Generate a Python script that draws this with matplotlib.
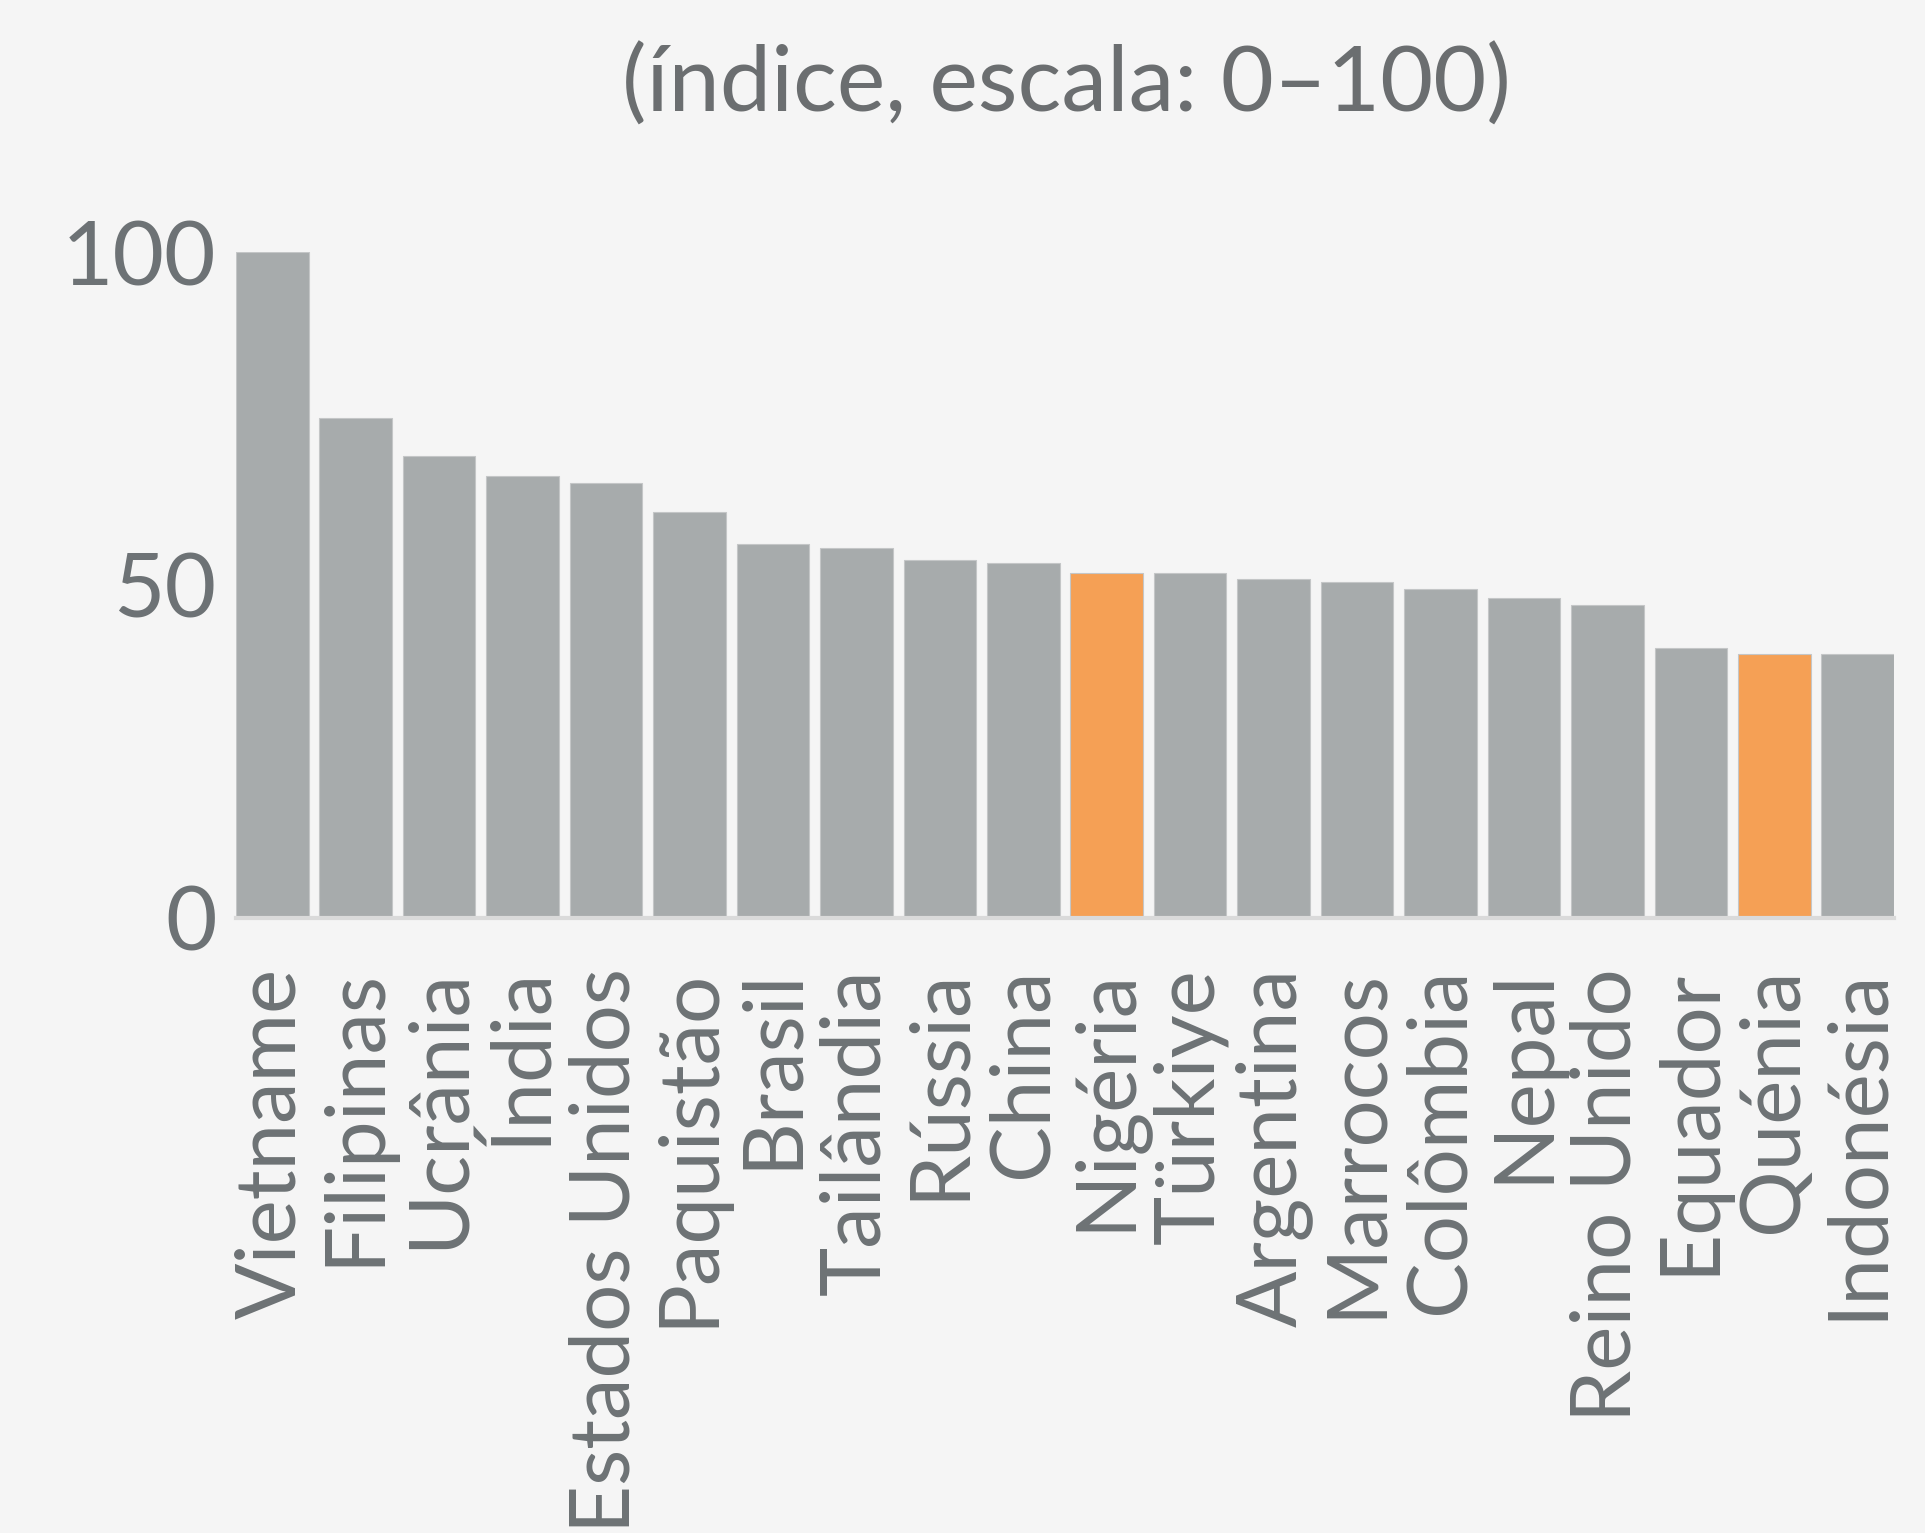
import matplotlib
matplotlib.use("Agg")
import matplotlib.pyplot as plt

countries = ["Vietname", "Filipinas", "Ucrânia", "Índia", "Estados Unidos", "Paquistão",
             "Brasil", "Tailândia", "Rússia", "China", "Nigéria", "Türkiye", "Argentina",
             "Marrocos", "Colômbia", "Nepal", "Reino Unido", "Equador", "Quénia", "Indonésia"]
values = [100, 75.1, 69.3, 66.4, 65.3, 61.0, 56.2, 55.6, 53.8, 53.3, 51.8, 51.8, 50.9,
          50.4, 49.4, 48.0, 47.0, 40.6, 39.7, 39.7]
highlight = ["Nigéria", "Quénia"]
yticks = [0, 50, 100]
title = "(índice, escala: 0–100)"

BG = "#f5f5f5"
GRAY = "#a7abac"
ORANGE = "#f5a055"
TEXT = "#6d7275"

plt.rcParams["font.family"] = ["Lato", "DejaVu Sans"]

fig = plt.figure(figsize=(19.25, 15.33), dpi=100, facecolor=BG)
ax = fig.add_axes([0.1226, 0.4012, 0.8613, 0.4344])
ax.set_facecolor("none")

w = 0.87
colors = [ORANGE if c in highlight else GRAY for c in countries]
x = list(range(len(countries)))
ax.bar(x, values, width=w, color=colors, edgecolor="#c4c6c7", linewidth=0.8, zorder=2)

ax.set_xlim(-w / 2, len(countries) - 1 + w / 2)
ax.set_ylim(0, 100)
ax.set_yticks(yticks)
ax.set_yticklabels([str(t) for t in yticks], fontsize=64, color=TEXT)
ax.set_xticks(x)
ax.set_xticklabels(countries, rotation=90, fontsize=60, color=TEXT, ha="center", va="top")
ax.tick_params(axis="both", length=0)
ax.tick_params(axis="x", pad=36)
ax.tick_params(axis="y", pad=14)

for s in ["top", "right", "left"]:
    ax.spines[s].set_visible(False)
ax.spines["bottom"].set_color("#dadada")
ax.spines["bottom"].set_linewidth(3)
ax.spines["bottom"].set_zorder(3)

fig.text(0.554, 0.944, title, fontsize=66, color="#6b6e70", ha="center", va="center")

fig.savefig("out.png", dpi=100, facecolor=BG)
